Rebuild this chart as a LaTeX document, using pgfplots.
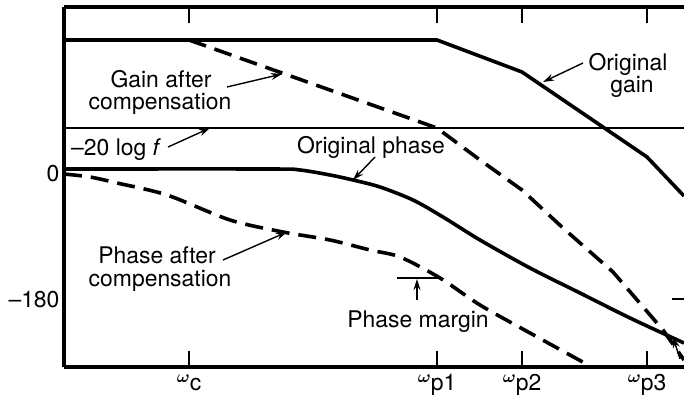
\documentclass[border=0pt]{standalone}
\usepackage{amsmath}
\usepackage{fontspec}
\setmainfont{TeX Gyre Heros}
\usepackage{pgfplots}
\pgfplotsset{compat=1.18}
\usetikzlibrary{arrows.meta}
\newcommand{\om}[1]{{\raisebox{8bp}{\fontsize{16}{16}\selectfont$\boldsymbol{\omega}$}#1}}
\begin{document}
\begin{tikzpicture}[x=1bp,y=1bp]
\useasboundingbox (0,0) rectangle (684,398);
\begin{axis}[
  at={(64bp,31bp)}, anchor=south west,
  scale only axis, width=620bp, height=360bp,
  xmin=64, xmax=684, ymin=0, ymax=360,
  axis x line=box, axis y line=left,
  axis line style={-, line width=4bp},
  clip=false,
  font=\fontsize{23}{25}\selectfont,
  xtick={189,437,522,647},
  xticklabels={\om{c},\om{p1},\om{p2},\om{p3}},
  xticklabel pos=bottom,
  xticklabel style={anchor=base, yshift=-23bp},
  tick align=inside,
  major tick length=16bp,
  x tick style={line width=1.5bp, black},
  ytick={193,67},
  yticklabels={0,\textendash180},
  y tick style={draw=none},
  yticklabel style={xshift=-1bp},
]
% -20 log f line
\addplot[black, line width=1.4bp] coordinates {(64,239) (684,239)};
% original gain
\addplot[black, line width=3.6bp] coordinates {(64,327) (437,327) (522,295) (647,210) (684,171)};
% gain after compensation
\addplot[black, line width=3.6bp, dash pattern=on 18bp off 9bp] coordinates {
 (189,327) (437,239) (480,207) (522,177) (563,139) (613,95) (663,37) (684,7)};
% original phase
\addplot[black, line width=3.6bp, smooth, tension=0.5] coordinates {
 (64,198) (270,198) (300,197) (330,192) (353,187) (380,180) (413,167) (443,150)
 (480,127) (530,99) (580,74) (630,49) (684,24)};
% phase after compensation
\addplot[black, line width=3.6bp, smooth, tension=0.5, dash pattern=on 18bp off 9bp] coordinates {
 (64,193) (90,190) (117,184) (167,172) (230,147) (283,135) (330,127) (370,117)
 (400,110) (440,89) (480,62) (530,34) (590,1)};
% annotations
\tikzset{arr/.style={-{Stealth[length=11bp,width=7bp]}, line width=1.4bp}}
\draw[arr] (axis cs:227,280) -- (axis cs:282,293);
\draw[arr] (axis cs:168,220) -- (axis cs:210,239);
\draw[arr] (axis cs:375,210) -- (axis cs:353,187);
\draw[arr] (axis cs:583,304) -- (axis cs:543,285);
\draw[arr] (axis cs:223,107) -- (axis cs:287,135);
\draw[line width=1.4bp] (axis cs:397,89) -- (axis cs:440,89);
\draw[arr] (axis cs:417,67) -- (axis cs:417,88);
\draw[line width=1.4bp] (axis cs:672,68) -- (axis cs:684,68);
\draw[arr] (axis cs:680,8) -- (axis cs:673,30);
\node[anchor=base] at (axis cs:161,280) {Gain after};
\node[anchor=base] at (axis cs:160,258) {compensation};
\node[anchor=base west, inner sep=0pt] at (axis cs:71,212) {\textendash20 log \textit{f}};
\node[anchor=base] at (axis cs:371,214) {Original phase};
\node[anchor=base] at (axis cs:628,297) {Original};
\node[anchor=base] at (axis cs:632,275) {gain};
\node[anchor=base] at (axis cs:157,104) {Phase after};
\node[anchor=base] at (axis cs:160,81) {compensation};
\node[anchor=base] at (axis cs:418,40) {Phase margin};
\end{axis}
\end{tikzpicture}
\end{document}
